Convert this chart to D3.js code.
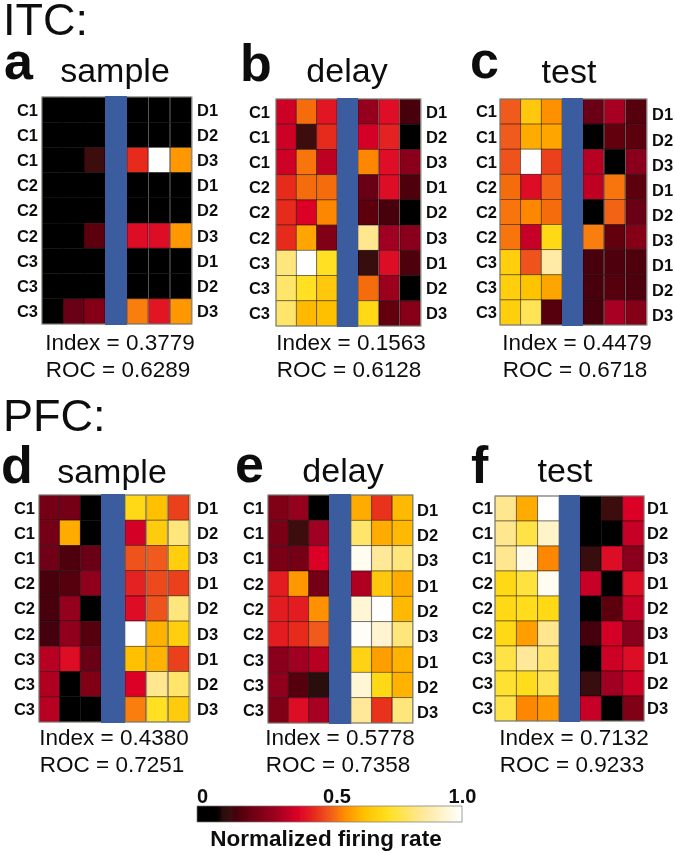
<!DOCTYPE html>
<html>
<head>
<meta charset="utf-8">
<script src="https://d3js.org/d3.v7.min.js"></script>
<style>
    html, body { margin: 0; padding: 0; background: #fff; }
    svg { display: block; }
    text { font-family: "Liberation Sans", Arial, sans-serif; fill: #111; }
</style>
</head>
<body>
<div id="chart"></div>
<script>
const leftLabels = ["C1", "C1", "C1", "C2", "C2", "C2", "C3", "C3", "C3"];
const rightLabels = ["D1", "D2", "D3", "D1", "D2", "D3", "D1", "D2", "D3"];

// normalized firing rate, one row per stimulus pair, 3 cells each side of the blue bar
const panelA = [
    [0, 0, 0, 0, 0, 0],
    [0, 0, 0, 0, 0, 0],
    [0, 0, .13, .44, 1, .57],
    [0, 0, 0, 0, 0, 0],
    [0, 0, 0, 0, 0, 0],
    [0, 0, .18, .39, .39, .57],
    [0, 0, 0, 0, 0, 0],
    [0, 0, 0, 0, 0, 0],
    [0, .2, .25, .54, .41, .57]
];
const panelB = [
    [.36, .52, .41, .28, .40, .15],
    [.36, .13, .44, .37, .43, 0],
    [.36, .53, .34, .55, .40, .26],
    [.44, .52, .52, .2, .39, .16],
    [.44, .38, .55, .18, .15, 0],
    [.44, .59, .24, .84, .3, .26],
    [.82, 1, .72, .12, .39, .16],
    [.8, .72, .65, .52, .29, 0],
    [.8, .62, .63, .7, .19, .25]
];
const panelC = [
    [.5, .65, .56, .2, .31, .17],
    [.5, .6, .59, 0, .19, .18],
    [.49, 1, .47, .33, 0, .26],
    [.52, .39, .51, .34, .53, .18],
    [.53, .55, .52, 0, .51, .2],
    [.53, .35, .7, .54, .19, .25],
    [.67, .49, .87, .15, .16, .16],
    [.67, .64, .59, .15, .17, .16],
    [.67, .78, .17, .15, .31, .25]
];
const panelD = [
    [.22, .22, 0, .7, .63, .47],
    [.22, .6, 0, .37, .66, .82],
    [.21, .16, .2, .49, .5, .67],
    [.15, .17, .27, .43, .48, .47],
    [.15, .28, 0, .39, .49, .82],
    [.14, .27, .17, 1, .61, .67],
    [.33, .39, .2, .63, .61, .47],
    [.32, 0, .24, .38, .84, .8],
    [.33, 0, 0, .54, .72, .66]
];
const panelE = [
    [.24, .28, 0, .6, .45, .62],
    [.23, .13, .3, .8, .6, .62],
    [.23, .22, .38, .98, .85, .82],
    [.42, .57, .22, .32, .65, .6],
    [.42, .42, .56, .94, 1, .62],
    [.42, .44, .5, .99, .93, .82],
    [.26, .3, .33, .68, .58, .61],
    [.27, .17, .1, .94, .7, .61],
    [.24, .39, .31, .85, .45, .82]
];
const panelF = [
    [.84, .6, 1, 0, .13, .38],
    [.84, .76, .92, 0, 0, .35],
    [.84, .97, .55, .12, .39, .26],
    [.7, .75, .98, .35, 0, .39],
    [.7, .71, .7, .02, .18, .35],
    [.7, .58, .84, .14, .37, .26],
    [.76, .85, .8, 0, .36, .39],
    [.74, .71, .78, .12, .3, .36],
    [.76, .55, .57, .35, 0, .24]
];

const letters = ["a", "b", "c", "d", "e", "f"];
const epochs = ["sample", "delay", "test", "sample", "delay", "test"];
const indexes = ["0.3779", "0.1563", "0.4479", "0.4380", "0.5778", "0.7132"];
const rocs = ["0.6289", "0.6128", "0.6718", "0.7251", "0.7358", "0.9233"];
const matrices = [panelA, panelB, panelC, panelD, panelE, panelF];

const colorTicks = [0, 0.5, 1];
const colorDomain = [0, .07, .1, .2, .3, .38, .45, .5, .56, .63, .72, .85, 1];
const colorRange = ["#000000", "#000000", "#2a0a0c", "#6a0012", "#a00020", "#dc0028", "#e8301e",
    "#f05a1a", "#ff9000", "#ffc000", "#ffe020", "#ffe898", "#ffffff"];

const colorScale = d3.scaleLinear().domain(colorDomain).range(colorRange);

// where each panel sits on the page
const layout = [
    { x0: 42, x1: 192, y0: 97, y1: 324, bar0: 105, bar1: 127, letterX: 4, letterY: 79, titleX: 115, titleY: 82, statX: 120, statY: 350, leftGap: 4, rightGap: 5, rightDy: 0 },
    { x0: 276, x1: 421, y0: 99, y1: 326, bar0: 337, bar1: 358, letterX: 240, letterY: 81, titleX: 347, titleY: 82, statX: 351, statY: 350, leftGap: 6, rightGap: 5, rightDy: 0 },
    { x0: 500, x1: 647, y0: 99, y1: 325, bar0: 562, bar1: 583, letterX: 470, letterY: 78, titleX: 569, titleY: 83, statX: 577, statY: 350, leftGap: 3, rightGap: 5, rightDy: 3 },
    { x0: 39, x1: 190, y0: 495, y1: 722, bar0: 101, bar1: 125, letterX: 1, letterY: 483, titleX: 112, titleY: 483, statX: 114, statY: 745, leftGap: 4, rightGap: 7, rightDy: 0 },
    { x0: 268, x1: 413, y0: 495, y1: 723, bar0: 329, bar1: 351, letterX: 235, letterY: 482, titleX: 343, titleY: 482, statX: 340, statY: 745, leftGap: 4, rightGap: 4, rightDy: 2 },
    { x0: 495, x1: 644, y0: 496, y1: 721, bar0: 559, bar1: 580, letterX: 471, letterY: 483, titleX: 565, titleY: 482, statX: 574, statY: 745, leftGap: 2, rightGap: 3, rightDy: 0 }
];

const width = 675, height = 853;

const svg = d3.select("#chart").append("svg")
    .attr("width", width)
    .attr("height", height);

const defs = svg.append("defs");

// the reference is a soft scan, so take the edge off everything a little
defs.append("filter")
    .attr("id", "soft")
    .append("feGaussianBlur")
    .attr("stdDeviation", 0.35);

const grad = defs.append("linearGradient")
    .attr("id", "rate-gradient")
    .attr("x1", "0%").attr("x2", "100%");
colorDomain.forEach((d, i) => {
    grad.append("stop")
        .attr("offset", (d * 100) + "%")
        .attr("stop-color", colorRange[i]);
});

const page = svg.append("g").attr("filter", "url(#soft)");

page.append("text").attr("x", 3).attr("y", 35).attr("font-size", 45).text("ITC:");
page.append("text").attr("x", 3).attr("y", 431).attr("font-size", 45).text("PFC:");

layout.forEach((p, k) => {
    const g = page.append("g");
    const data = matrices[k];

    const yScale = d3.scaleBand().domain(d3.range(9)).range([p.y0, p.y1]);
    const xLeft = d3.scaleBand().domain([0, 1, 2]).range([p.x0, p.bar0]);
    const xRight = d3.scaleBand().domain([3, 4, 5]).range([p.bar1, p.x1]);
    const xCell = c => c < 3 ? xLeft(c) : xRight(c);

    g.append("text")
        .attr("x", p.letterX).attr("y", p.letterY)
        .attr("font-size", 52).attr("font-weight", "bold")
        .text(letters[k]);

    g.append("text")
        .attr("x", p.titleX).attr("y", p.titleY)
        .attr("font-size", 34).attr("text-anchor", "middle")
        .text(epochs[k]);

    const rows = g.selectAll(".row")
        .data(data)
        .enter()
        .append("g")
        .attr("class", "row")
        .attr("transform", (d, i) => `translate(0,${yScale(i)})`);

    rows.selectAll("rect")
        .data(d => d)
        .enter()
        .append("rect")
        .attr("x", (d, c) => xCell(c))
        .attr("width", xLeft.bandwidth())
        .attr("height", yScale.bandwidth())
        .attr("fill", d => colorScale(d))
        .attr("stroke", "#000")
        .attr("stroke-opacity", 0.5)
        .attr("stroke-width", 0.8);

    // frame, then the blue separator over it
    g.append("rect")
        .attr("x", p.x0).attr("y", p.y0)
        .attr("width", p.x1 - p.x0).attr("height", p.y1 - p.y0)
        .attr("fill", "none")
        .attr("stroke", "#8a8a80")
        .attr("stroke-width", 1);

    g.append("rect")
        .attr("x", p.bar0).attr("y", p.y0 - 1)
        .attr("width", p.bar1 - p.bar0).attr("height", p.y1 - p.y0 + 2)
        .attr("fill", "#3a5c9e");

    g.selectAll(".left-label")
        .data(leftLabels)
        .enter()
        .append("text")
        .attr("class", "left-label")
        .attr("x", p.x0 - p.leftGap)
        .attr("y", (d, i) => yScale(i) + yScale.bandwidth() / 2)
        .attr("dy", "0.36em")
        .attr("text-anchor", "end")
        .attr("font-size", 16.5).attr("font-weight", "bold")
        .text(d => d);

    g.selectAll(".right-label")
        .data(rightLabels)
        .enter()
        .append("text")
        .attr("class", "right-label")
        .attr("x", p.x1 + p.rightGap)
        .attr("y", (d, i) => yScale(i) + yScale.bandwidth() / 2 + p.rightDy)
        .attr("dy", "0.36em")
        .attr("font-size", 16.5).attr("font-weight", "bold")
        .text(d => d);

    g.append("text")
        .attr("x", p.statX).attr("y", p.statY)
        .attr("font-size", 22.5).attr("text-anchor", "middle")
        .attr("fill", "#222")
        .text(`Index = ${indexes[k]}`);

    g.append("text")
        .attr("x", p.statX - 2).attr("y", p.statY + 27)
        .attr("font-size", 22.5).attr("text-anchor", "middle")
        .attr("fill", "#222")
        .text(`ROC = ${rocs[k]}`);
});

// colour bar
const barX = d3.scaleLinear().domain([0, 1]).range([197, 462]);
const barY = 806, barH = 16;

page.append("rect")
    .attr("x", barX(0)).attr("y", barY)
    .attr("width", barX(1) - barX(0)).attr("height", barH)
    .attr("fill", "url(#rate-gradient)")
    .attr("stroke", "#777")
    .attr("stroke-width", 0.7);

const axis = d3.axisTop(barX)
    .tickValues(colorTicks)
    .tickSize(0)
    .tickPadding(3)
    .tickFormat(d => d === 0 ? "0" : d3.format(".1f")(d));

const axisG = page.append("g")
    .attr("transform", `translate(0,${barY})`)
    .call(axis);
axisG.select(".domain").remove();
axisG.selectAll("text")
    .attr("font-size", 20)
    .attr("font-weight", "bold")
    .attr("font-family", "Liberation Sans")
    .attr("dx", d => d === 0 ? 5 : d === 0.5 ? 7 : 0);

page.append("text")
    .attr("x", 326).attr("y", 846)
    .attr("font-size", 22.5).attr("font-weight", "bold")
    .attr("text-anchor", "middle")
    .text("Normalized firing rate");
</script>
</body>
</html>
